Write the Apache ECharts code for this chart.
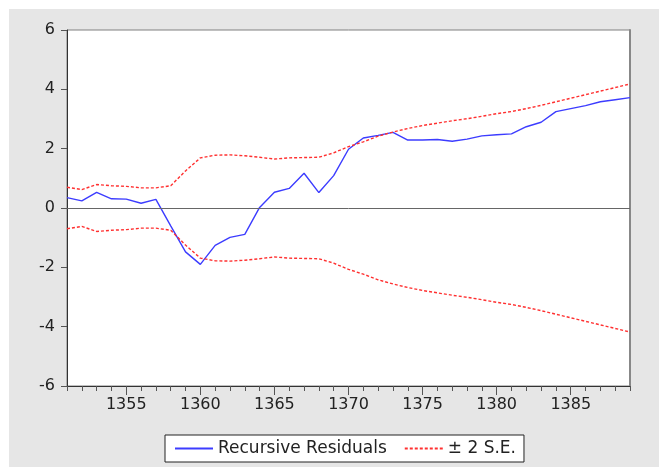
<!DOCTYPE html>
<html>
<head>
<meta charset="utf-8">
<script src="https://cdn.jsdelivr.net/npm/echarts@6/dist/echarts.min.js"></script>
<style>
html,body{margin:0;padding:0;background:#fff;}
#bg{position:absolute;left:9px;top:9px;width:650px;height:458px;background:#e6e6e6;}
#chart{position:absolute;left:0;top:0;width:659px;height:467px;}
</style>
</head>
<body>
<div id="bg"></div>
<div id="chart"></div>
<script>
var years = ['1351','1352','1353','1354','1355','1356','1357','1358','1359','1360',
  '1361','1362','1363','1364','1365','1366','1367','1368','1369','1370',
  '1371','1372','1373','1374','1375','1376','1377','1378','1379','1380',
  '1381','1382','1383','1384','1385','1386','1387','1388','1389'];
var residuals = [0.35,0.24,0.53,0.31,0.30,0.16,0.29,-0.60,-1.48,-1.90,
  -1.26,-0.99,-0.89,0.02,0.53,0.66,1.17,0.52,1.09,1.98,
  2.36,2.45,2.55,2.29,2.29,2.31,2.25,2.32,2.43,2.47,
  2.50,2.74,2.89,3.25,3.35,3.45,3.58,3.65,3.72];
var upperSE = [0.70,0.62,0.79,0.75,0.73,0.68,0.68,0.75,1.25,1.69,
  1.78,1.79,1.76,1.71,1.65,1.69,1.70,1.71,1.86,2.07,
  2.23,2.42,2.56,2.68,2.78,2.86,2.94,3.01,3.09,3.18,
  3.25,3.35,3.46,3.58,3.70,3.82,3.94,4.06,4.18];
var lowerSE = [-0.70,-0.62,-0.79,-0.75,-0.73,-0.68,-0.68,-0.75,-1.25,-1.69,
  -1.78,-1.79,-1.76,-1.71,-1.65,-1.69,-1.70,-1.71,-1.86,-2.07,
  -2.23,-2.42,-2.56,-2.68,-2.78,-2.86,-2.94,-3.01,-3.09,-3.18,
  -3.25,-3.35,-3.46,-3.58,-3.70,-3.82,-3.94,-4.06,-4.18];
var yTicks = {min: -6, max: 6, interval: 2};
var legendNames = ['Recursive Residuals', '\u00b1 2 S.E.'];

var FONT = 'DejaVu Sans';
var chart = echarts.init(document.getElementById('chart'), null, {renderer: 'canvas'});
var redLine = {color: '#ff3030', width: 1.4, type: [3, 2]};
chart.setOption({
  backgroundColor: 'transparent',
  animation: false,
  textStyle: {fontFamily: FONT},
  grid: {left: 67, top: 30, width: 563, height: 356, show: true, backgroundColor: '#ffffff',
         borderColor: '#808080', borderWidth: 1},
  legend: {
    data: legendNames, left: 165, top: 435, orient: 'horizontal',
    backgroundColor: '#ffffff', borderColor: '#222', borderWidth: 1, borderRadius: 0,
    padding: [5, 8, 5, 9], itemWidth: 38, itemHeight: 10, itemGap: 17,
    itemStyle: {opacity: 0},
    textStyle: {fontFamily: FONT, fontSize: 17, color: '#222'}
  },
  xAxis: [{
    type: 'category', data: years, boundaryGap: false, position: 'bottom',
    axisLine: {show: true, onZero: false, lineStyle: {color: '#333', width: 1}},
    axisTick: {show: true, inside: false, length: 5, interval: 0, lineStyle: {color: '#555'}},
    axisLabel: {show: true, margin: 11, fontSize: 16, color: '#222', fontFamily: FONT,
      interval: function (i, v) { return (+v) % 5 === 0; }},
    splitLine: {show: false}
  }, {
    type: 'category', data: years, boundaryGap: false, position: 'bottom', offset: 0,
    axisLine: {show: false, onZero: false},
    axisTick: {show: true, inside: false, length: 9,
      interval: function (i, v) { return (+v) % 5 === 0; }, lineStyle: {color: '#555'}},
    axisLabel: {show: false},
    splitLine: {show: false}
  }],
  yAxis: [{
    type: 'value', min: yTicks.min, max: yTicks.max, interval: yTicks.interval,
    axisLine: {show: true, onZero: false, lineStyle: {color: '#333', width: 1}},
    axisTick: {show: true, inside: false, length: 6, lineStyle: {color: '#555'}},
    axisLabel: {margin: 12, fontSize: 16, color: '#222', fontFamily: FONT},
    splitLine: {show: false}
  }, {
    type: 'value', min: yTicks.min, max: yTicks.max, interval: yTicks.interval, position: 'right',
    axisLine: {show: true, onZero: false, lineStyle: {color: '#888', width: 2}},
    axisTick: {show: false}, axisLabel: {show: false}, splitLine: {show: false}
  }],
  series: [{
    name: legendNames[0], type: 'line', data: residuals, symbol: 'none', showSymbol: false,
    lineStyle: {color: '#3c3cff', width: 1.4}, itemStyle: {color: '#3c3cff'},
    z: 3,
    markLine: {silent: true, symbol: 'none', label: {show: false},
      lineStyle: {color: '#666', width: 1, type: 'solid'}, data: [{yAxis: 0}]}
  }, {
    name: legendNames[1], type: 'line', data: upperSE, symbol: 'none', showSymbol: false,
    lineStyle: redLine, itemStyle: {color: '#ff3030'}
  }, {
    name: legendNames[1], type: 'line', data: lowerSE, symbol: 'none', showSymbol: false,
    lineStyle: redLine, itemStyle: {color: '#ff3030'}
  }]
});
</script>
</body>
</html>
